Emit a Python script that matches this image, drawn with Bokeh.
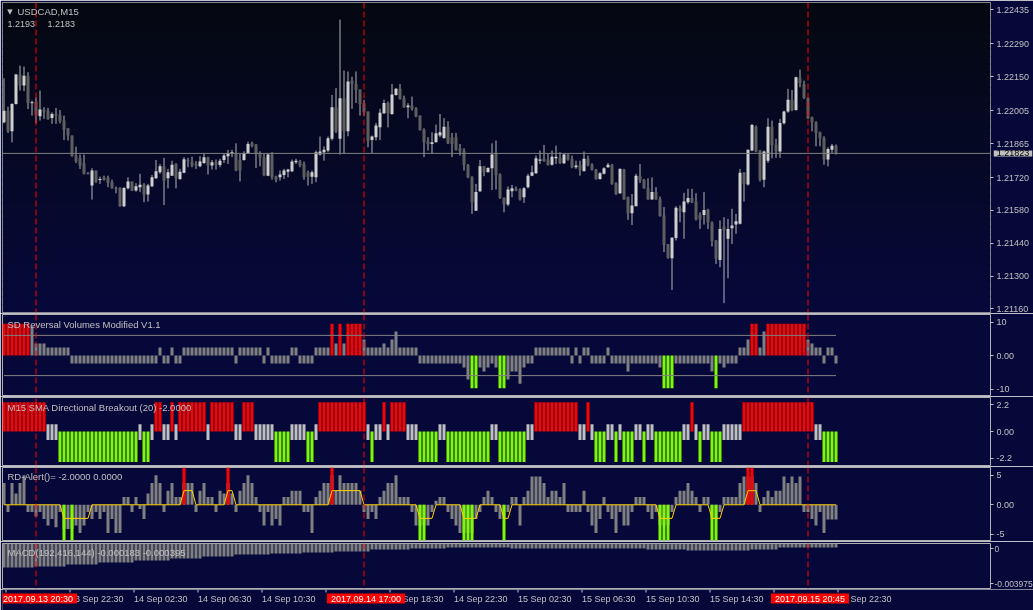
import pandas as pd
from bokeh.plotting import figure
from bokeh.layouts import column
from bokeh.models import (ColumnDataSource, Span, Label, FixedTicker, BoxAnnotation,
                          Range1d, CustomJSTickFormatter)
from bokeh.embed import file_html
from bokeh.resources import INLINE

# ============================ DATA ============================
symbol_title = "USDCAD,M15"
header_prices = ["1.2193", "1.2183"]
first_bar_time = "2017-09-13 18:30"
bar_minutes = 15

opens = [
    1.21956, 1.22005, 1.21917, 1.22034, 1.22159, 1.22112, 1.22154, 1.22038, 1.22044, 1.21981,
    1.22010, 1.22005, 1.21974, 1.21991, 1.21988, 1.21963, 1.21930, 1.21899, 1.21814, 1.21802,
    1.21781, 1.21740, 1.21686, 1.21750, 1.21710, 1.21721, 1.21719, 1.21700, 1.21676, 1.21676,
    1.21598, 1.21674, 1.21703, 1.21665, 1.21679, 1.21690, 1.21648, 1.21683, 1.21717, 1.21743,
    1.21768, 1.21717, 1.21728, 1.21778, 1.21714, 1.21740, 1.21795, 1.21787, 1.21778, 1.21768,
    1.21782, 1.21807, 1.21771, 1.21785, 1.21774, 1.21795, 1.21811, 1.21821, 1.21825, 1.21795,
    1.21795, 1.21824, 1.21868, 1.21861, 1.21824, 1.21807, 1.21728, 1.21818, 1.21724, 1.21721,
    1.21731, 1.21745, 1.21747, 1.21785, 1.21788, 1.21778, 1.21743, 1.21724, 1.21721, 1.21818,
    1.21828, 1.21835, 1.21885, 1.22020, 1.21885, 1.22058, 1.21917, 1.22133, 1.22119, 1.22095,
    1.22037, 1.22001, 1.21880, 1.21892, 1.21934, 1.21994, 1.22038, 1.21991, 1.22072, 1.22098,
    1.22058, 1.22020, 1.22027, 1.22015, 1.21984, 1.21924, 1.21875, 1.21863, 1.21870, 1.21899,
    1.21889, 1.21937, 1.21892, 1.21892, 1.21845, 1.21835, 1.21774, 1.21721, 1.21579, 1.21662,
    1.21768, 1.21743, 1.21760, 1.21825, 1.21733, 1.21633, 1.21605, 1.21662, 1.21672, 1.21669,
    1.21636, 1.21679, 1.21728, 1.21738, 1.21792, 1.21800, 1.21797, 1.21775, 1.21802, 1.21804,
    1.21781, 1.21818, 1.21800, 1.21764, 1.21774, 1.21747, 1.21800, 1.21775, 1.21754, 1.21714,
    1.21736, 1.21764, 1.21774, 1.21696, 1.21653, 1.21753, 1.21636, 1.21568, 1.21598, 1.21728,
    1.21711, 1.21676, 1.21626, 1.21658, 1.21629, 1.21558, 1.21436, 1.21376, 1.21462, 1.21589,
    1.21572, 1.21615, 1.21633, 1.21618, 1.21562, 1.21561, 1.21584, 1.21530, 1.21452, 1.21369,
    1.21511, 1.21459, 1.21504, 1.21520, 1.21523, 1.21740, 1.21690, 1.21835, 1.21937, 1.21835,
    1.21711, 1.21792, 1.21937, 1.21861, 1.21831, 1.21951, 1.22001, 1.22052, 1.22008, 1.22145,
    1.22119, 1.22059, 1.21977, 1.21956, 1.21913, 1.21889, 1.21797, 1.21839, 1.21856,
]
highs = [
    1.22143, 1.22022, 1.22037, 1.22162, 1.22197, 1.22193, 1.22169, 1.22048, 1.22062, 1.22091,
    1.22020, 1.22017, 1.21998, 1.22017, 1.22008, 1.21984, 1.21930, 1.21899, 1.21852, 1.21818,
    1.21818, 1.21743, 1.21760, 1.21750, 1.21724, 1.21728, 1.21728, 1.21711, 1.21682, 1.21679,
    1.21679, 1.21721, 1.21703, 1.21696, 1.21736, 1.21696, 1.21693, 1.21731, 1.21795, 1.21778,
    1.21804, 1.21757, 1.21792, 1.21781, 1.21757, 1.21807, 1.21804, 1.21809, 1.21790, 1.21811,
    1.21821, 1.21809, 1.21795, 1.21797, 1.21800, 1.21821, 1.21838, 1.21838, 1.21866, 1.21821,
    1.21832, 1.21873, 1.21873, 1.21863, 1.21832, 1.21821, 1.21825, 1.21828, 1.21728, 1.21750,
    1.21757, 1.21757, 1.21797, 1.21800, 1.21795, 1.21788, 1.21750, 1.21750, 1.21835, 1.21895,
    1.21853, 1.21895, 1.22072, 1.22101, 1.22393, 1.22176, 1.22172, 1.22150, 1.22172, 1.22095,
    1.22051, 1.22001, 1.21899, 1.21953, 1.22013, 1.22052, 1.22044, 1.22119, 1.22101, 1.22119,
    1.22069, 1.22037, 1.22065, 1.22020, 1.21984, 1.21930, 1.21892, 1.21913, 1.21946, 1.21991,
    1.21973, 1.21960, 1.21910, 1.21910, 1.21863, 1.21845, 1.21778, 1.21726, 1.21693, 1.21795,
    1.21768, 1.21764, 1.21866, 1.21878, 1.21738, 1.21636, 1.21682, 1.21689, 1.21682, 1.21674,
    1.21679, 1.21736, 1.21771, 1.21814, 1.21835, 1.21859, 1.21821, 1.21835, 1.21856, 1.21828,
    1.21821, 1.21821, 1.21814, 1.21792, 1.21792, 1.21831, 1.21814, 1.21781, 1.21757, 1.21743,
    1.21764, 1.21782, 1.21778, 1.21700, 1.21760, 1.21757, 1.21639, 1.21650, 1.21736, 1.21778,
    1.21714, 1.21717, 1.21721, 1.21679, 1.21639, 1.21594, 1.21437, 1.21466, 1.21598, 1.21601,
    1.21655, 1.21672, 1.21672, 1.21653, 1.21572, 1.21658, 1.21587, 1.21533, 1.21454, 1.21537,
    1.21551, 1.21544, 1.21587, 1.21565, 1.21757, 1.21743, 1.21839, 1.21949, 1.21942, 1.21838,
    1.21835, 1.21973, 1.21963, 1.21885, 1.21970, 1.22005, 1.22098, 1.22093, 1.22150, 1.22180,
    1.22133, 1.22062, 1.21980, 1.21960, 1.21916, 1.21896, 1.21849, 1.21863, 1.21861,
]
lows = [
    1.21951, 1.21910, 1.21870, 1.22031, 1.22091, 1.22088, 1.22012, 1.21984, 1.21951, 1.21963,
    1.21970, 1.21966, 1.21949, 1.21949, 1.21951, 1.21880, 1.21878, 1.21809, 1.21782, 1.21757,
    1.21733, 1.21733, 1.21626, 1.21697, 1.21693, 1.21707, 1.21679, 1.21672, 1.21653, 1.21596,
    1.21594, 1.21669, 1.21662, 1.21660, 1.21658, 1.21615, 1.21618, 1.21679, 1.21714, 1.21736,
    1.21603, 1.21674, 1.21728, 1.21674, 1.21710, 1.21738, 1.21764, 1.21764, 1.21757, 1.21764,
    1.21778, 1.21733, 1.21754, 1.21754, 1.21764, 1.21782, 1.21778, 1.21807, 1.21747, 1.21703,
    1.21792, 1.21821, 1.21849, 1.21761, 1.21768, 1.21726, 1.21726, 1.21711, 1.21700, 1.21707,
    1.21714, 1.21721, 1.21743, 1.21778, 1.21764, 1.21711, 1.21686, 1.21693, 1.21700, 1.21814,
    1.21792, 1.21828, 1.21878, 1.21910, 1.21818, 1.21824, 1.21896, 1.22013, 1.22038, 1.21984,
    1.21984, 1.21849, 1.21825, 1.21878, 1.21880, 1.21991, 1.21934, 1.21987, 1.22069, 1.22052,
    1.22017, 1.21973, 1.22005, 1.21977, 1.21920, 1.21807, 1.21835, 1.21821, 1.21870, 1.21892,
    1.21885, 1.21863, 1.21807, 1.21835, 1.21814, 1.21750, 1.21717, 1.21565, 1.21579, 1.21658,
    1.21726, 1.21743, 1.21667, 1.21669, 1.21629, 1.21572, 1.21598, 1.21636, 1.21662, 1.21622,
    1.21612, 1.21674, 1.21726, 1.21736, 1.21778, 1.21787, 1.21771, 1.21771, 1.21778, 1.21778,
    1.21778, 1.21792, 1.21760, 1.21757, 1.21728, 1.21747, 1.21768, 1.21750, 1.21711, 1.21711,
    1.21733, 1.21761, 1.21689, 1.21646, 1.21650, 1.21626, 1.21540, 1.21518, 1.21598, 1.21697,
    1.21672, 1.21626, 1.21626, 1.21625, 1.21554, 1.21402, 1.21374, 1.21241, 1.21452, 1.21530,
    1.21459, 1.21608, 1.21611, 1.21537, 1.21501, 1.21520, 1.21501, 1.21426, 1.21352, 1.21338,
    1.21185, 1.21291, 1.21437, 1.21480, 1.21520, 1.21618, 1.21686, 1.21832, 1.21828, 1.21703,
    1.21679, 1.21782, 1.21802, 1.21804, 1.21804, 1.21946, 1.21996, 1.22003, 1.22005, 1.22105,
    1.22055, 1.21970, 1.21917, 1.21853, 1.21853, 1.21775, 1.21768, 1.21825, 1.21818,
]
closes = [
    1.22005, 1.21917, 1.22034, 1.22159, 1.22112, 1.22154, 1.22038, 1.22041, 1.21984, 1.22010,
    1.22001, 1.21970, 1.21991, 1.21984, 1.21960, 1.21924, 1.21899, 1.21811, 1.21790, 1.21771,
    1.21736, 1.21736, 1.21750, 1.21703, 1.21714, 1.21711, 1.21697, 1.21676, 1.21674, 1.21598,
    1.21676, 1.21703, 1.21665, 1.21683, 1.21689, 1.21648, 1.21686, 1.21721, 1.21747, 1.21768,
    1.21707, 1.21743, 1.21775, 1.21717, 1.21745, 1.21798, 1.21790, 1.21771, 1.21771, 1.21788,
    1.21807, 1.21771, 1.21785, 1.21775, 1.21792, 1.21814, 1.21824, 1.21828, 1.21750, 1.21750,
    1.21824, 1.21863, 1.21853, 1.21821, 1.21804, 1.21731, 1.21818, 1.21721, 1.21711, 1.21733,
    1.21750, 1.21754, 1.21788, 1.21792, 1.21771, 1.21721, 1.21724, 1.21743, 1.21828, 1.21831,
    1.21839, 1.21888, 1.22020, 1.21917, 1.22058, 1.21917, 1.22129, 1.22119, 1.22093, 1.22034,
    1.21998, 1.21875, 1.21895, 1.21942, 1.21996, 1.22038, 1.21994, 1.22074, 1.22098, 1.22055,
    1.22020, 1.22027, 1.22013, 1.21980, 1.21923, 1.21870, 1.21863, 1.21870, 1.21909, 1.21913,
    1.21937, 1.21866, 1.21863, 1.21839, 1.21832, 1.21774, 1.21721, 1.21615, 1.21658, 1.21768,
    1.21743, 1.21761, 1.21818, 1.21731, 1.21633, 1.21605, 1.21669, 1.21674, 1.21665, 1.21626,
    1.21674, 1.21728, 1.21743, 1.21802, 1.21797, 1.21790, 1.21774, 1.21809, 1.21809, 1.21782,
    1.21818, 1.21797, 1.21764, 1.21771, 1.21753, 1.21800, 1.21771, 1.21753, 1.21714, 1.21738,
    1.21760, 1.21775, 1.21693, 1.21650, 1.21757, 1.21626, 1.21568, 1.21601, 1.21728, 1.21707,
    1.21674, 1.21626, 1.21658, 1.21626, 1.21555, 1.21433, 1.21378, 1.21463, 1.21591, 1.21577,
    1.21618, 1.21633, 1.21615, 1.21541, 1.21541, 1.21582, 1.21530, 1.21449, 1.21374, 1.21501,
    1.21494, 1.21501, 1.21516, 1.21534, 1.21740, 1.21693, 1.21838, 1.21944, 1.21832, 1.21711,
    1.21831, 1.21937, 1.21859, 1.21832, 1.21953, 1.22001, 1.22052, 1.22008, 1.22147, 1.22123,
    1.22059, 1.21973, 1.21956, 1.21910, 1.21888, 1.21797, 1.21842, 1.21856, 1.21823,
]
last_price = 1.21823
price_ticks = [1.22435, 1.22290, 1.22150, 1.22005, 1.21865, 1.21720, 1.21580, 1.21440, 1.21300, 1.21160]

# --- SD Reversal Volumes ---
sd_title = "SD Reversal Volumes Modified V1.1"
sd_values = [
    9.5, 9.5, 9.5, 9.5, 9.5, 9.5, 9.5, 8.7, 3.6, 3.6,
    3.6, 2.4, 2.4, 2.4, 2.4, 2.4, 2.4, -2.4, -2.4, -2.4,
    -2.4, -2.4, -2.4, -2.4, -2.4, -2.4, -2.4, -2.4, -2.4, -2.4,
    -2.4, -2.4, -2.4, -2.4, -2.4, -2.4, -2.4, -2.4, -2.4, 2.4,
    -2.4, -2.4, 2.4, -2.4, -2.4, 2.4, 2.4, 2.4, 2.4, 2.4,
    2.4, 2.4, 2.4, 2.4, 2.4, 2.4, 2.4, 2.4, -2.4, 2.4,
    2.4, 2.4, 2.4, 2.4, 2.4, -2.4, 2.4, -2.4, -2.4, -2.4,
    -2.4, -2.4, 2.4, 2.4, -2.4, -2.4, -2.4, -2.4, 2.4, 2.4,
    2.4, 2.4, 9.5, 3.6, 9.5, 3.6, 9.5, 9.5, 9.5, 9.5,
    4.8, 2.4, 2.4, 2.4, 2.4, 3.6, 2.4, 4.8, 7.2, 2.4,
    2.4, 2.4, 2.4, 2.4, -2.4, -2.4, -2.4, -2.4, -2.4, -2.4,
    -2.4, -2.4, -2.4, -2.4, -2.4, -3.6, -7.2, -9.8, -9.8, -3.6,
    -4.8, -3.6, -2.4, -3.6, -9.8, -9.8, -7.2, -4.8, -4.8, -8.4,
    -3.6, -2.4, -2.4, 2.4, 2.4, 2.4, 2.4, 2.4, 2.4, 2.4,
    2.4, 2.4, -2.4, 2.4, -2.4, 2.4, 2.4, -2.4, -2.4, -2.4,
    -2.4, 2.4, -2.4, -2.4, -2.4, -2.4, -4.8, -2.4, -2.4, -2.4,
    -2.4, -2.4, -2.4, -2.4, -3.6, -9.8, -9.8, -9.8, -2.4, -2.4,
    -2.4, -2.4, -2.4, -2.4, -2.4, -2.4, -2.4, -4.8, -9.8, -2.4,
    -3.6, -2.4, -2.4, -2.4, 2.4, 2.4, 4.8, 9.5, 9.5, 2.4,
    7.2, 9.5, 9.5, 9.5, 9.5, 9.5, 9.5, 9.5, 9.5, 9.5,
    9.5, 4.8, 3.6, 2.4, 2.4, -2.4, 2.4, 2.4, -2.4,
]
sd_state = (
    "RRRRRRRNNN" "NNNNNNNNNN" "NNNNNNNNNN" "NNNNNNNNNN" "NNNNNNNNNN"
    "NNNNNNNNNN" "NNNNNNNNNN" "NNNNNNNNNN" "NNRNRNRRRR" "NNNNNNNNNN"
    "NNNNNNNNNN" "NNNNNNNGGN" "NNNNGGNNNN" "NNNNNNNNNN" "NNNNNNNNNN"
    "NNNNNNNNNN" "NNNNNGGGNN" "NNNNNNNNGN" "NNNNNNNRRN" "NRRRRRRRRR"
    "RNNNNNNNN"
)
sd_level = 6.0
sd_ticks = [10, 0, -10]
sd_tick_labels = ["10", "0.00", "-10"]

# --- M15 SMA Directional Breakout ---
m15_title = "M15 SMA Directional Breakout (20) -2.0000"
m15_state = (
    "RRRRRRRRRR" "RNNNGGGGGG" "GGGGGGGGGG" "GGGGNGGNRR" "NNRNRRRRRR"
    "RNRRRRRRNN" "RRRNNNNNGG" "GGNNNNGGNR" "RRRRRRRRRR" "RNGNNRNRRR"
    "RNNNGGGGGN" "NGGGGGGGGG" "GGNNGGGGGG" "GNNRRRRRRR" "RRRRNNRNGG"
    "GNNGNGGGNN" "GNNGGGGGGG" "NNRNGNNGGG" "NNNNNRRRRR" "RRRRRRRRRR"
    "RRRNNGGGG"
)
m15_up = 2.4
m15_down = -2.5
m15_flat = (-0.7, 0.6)
m15_ticks = [2.2, 0.0, -2.2]
m15_tick_labels = ["2.2", "0.00", "-2.2"]

# --- RD-Alert ---
rd_title = "RD-Alert()=  -2.0000 0.0000"
rd_hist = [
    3.7, -1.2, 3.7, 1.9, 3.7, 5.0, -1.2, -1.2, -2.0, -1.2,
    -2.4, -3.5, -2.4, -3.8, -1.2, -4.1, -4.1, -4.1, -3.5, -4.8,
    -3.5, -1.2, -2.4, -1.2, -2.4, -1.2, -4.8, -2.4, -4.8, -4.8,
    1.3, 1.3, -1.2, 1.3, -0.7, -2.4, 1.9, 3.7, 5.0, 3.7,
    -1.2, 2.4, 3.7, 1.3, 1.3, 3.7, 3.7, 3.7, -1.2, 2.4,
    3.7, 1.3, 1.3, -1.2, 2.4, 1.9, 3.7, 1.9, -1.2, 2.4,
    3.7, 5.0, 3.7, 1.3, -1.2, -3.5, -1.2, -3.5, -2.4, -3.5,
    1.3, 1.3, 2.4, 2.4, 2.4, -1.2, -1.2, -4.8, 1.3, 2.4,
    3.7, 3.7, 5.0, 2.4, 5.0, 3.7, 3.7, 3.7, 3.7, 2.4,
    -1.2, -2.4, -1.2, -2.4, 1.3, 2.4, 3.7, 3.7, 5.0, 1.3,
    1.3, 1.3, -1.2, -3.5, -3.5, -3.5, -3.5, -1.2, 0.7, 1.3,
    1.3, -1.2, -2.4, -3.5, -4.8, -4.8, -4.8, -4.8, -2.4, -1.2,
    1.3, 2.4, 1.3, -1.2, -2.4, -2.4, -1.2, 1.3, 1.3, -3.5,
    1.3, 2.4, 4.8, 4.8, 4.8, 3.7, 1.3, 2.4, 2.4, 1.3,
    3.7, -1.2, -1.2, -1.2, -1.2, 2.4, -1.2, -3.5, -4.8, -2.4,
    1.3, -1.2, -2.4, -4.8, -1.2, -3.5, -3.5, -1.2, 1.3, 1.3,
    1.3, -1.2, -2.4, -1.2, -3.5, -3.5, -3.5, -1.2, 1.3, 2.4,
    2.4, 3.7, 2.4, 1.3, -1.2, 1.3, 1.3, -2.4, -2.4, -1.2,
    1.3, 1.3, 1.3, 1.3, 3.7, 4.8, 4.8, 4.8, 3.7, -1.2,
    1.3, 2.4, 1.3, 2.4, 2.4, 4.8, 3.7, 4.8, 3.7, 4.8,
    -1.2, -1.2, -2.4, -3.5, -1.2, -4.8, -2.5, -2.5, -2.5,
]
rd_alert = (
    ".........." ".....G.G.." ".........." ".........." ".....R...."
    "......R..." ".........." ".........." "..R......." ".........."
    "....GG...." ".....GGG.." ".....G...." ".........." ".........."
    ".........." "....GGG..." ".......GG." "......RR.." ".........."
    "........."
)
rd_line = [
    0, 0, 0, 0, 0, 0, 0, 0, 0, 0,
    0, 0, 0, 0, 0, -2.3, -2.3, -2.3, -2.3, -2.3,
    -2.3, -2.3, 0, 0, 0, 0, 0, 0, 0, 0,
    0, 0, 0, 0, 0, 0, 0, 0, 0, 0,
    0, 0, 0, 0, 0, 2.4, 2.4, 2.4, 0, 0,
    0, 0, 0, 0, 0, 0, 2.4, 2.4, 0, 0,
    0, 0, 0, 0, 0, 0, 0, 0, 0, 0,
    0, 0, 0, 0, 0, 0, 0, 0, 0, 0,
    0, 0, 2.4, 2.4, 2.4, 2.4, 2.4, 2.4, 2.4, 2.4,
    0, 0, 0, 0, 0, 0, 0, 0, 0, 0,
    0, 0, 0, 0, -2.3, -2.3, -2.3, -2.3, 0, 0,
    0, 0, 0, 0, 0, -2.3, -2.3, -2.3, -2.3, 0,
    0, 0, 0, 0, 0, -2.3, -2.3, 0, 0, 0,
    0, 0, 0, 0, 0, 0, 0, 0, 0, 0,
    0, 0, 0, 0, 0, 0, 0, 0, 0, 0,
    0, 0, 0, 0, 0, 0, 0, 0, 0, 0,
    0, 0, 0, 0, -2.3, -2.3, -2.3, -2.3, 0, 0,
    0, 0, 0, 0, 0, 0, 0, -2.3, -2.3, -2.3,
    0, 0, 0, 0, 0, 0, 2.4, 2.4, 2.4, 0,
    0, 0, 0, 0, 0, 0, 0, 0, 0, 0,
    0, 0, 0, 0, 0, 0, 0, 0, 0,
]
rd_ticks = [5, 0, -5]
rd_tick_labels = ["5", "0.00", "-5"]

# --- MACD ---
macd_title = "MACD(192,416,144) -0.000183 -0.000395"
macd_hist = [
    -0.00207, -0.00207, -0.00207, -0.00207, -0.00207, -0.00207, -0.00207, -0.00207, -0.00199, -0.00199,
    -0.00199, -0.00199, -0.00199, -0.00199, -0.00199, -0.00199, -0.00181, -0.00181, -0.00181, -0.00181,
    -0.00181, -0.00181, -0.00181, -0.00181, -0.00164, -0.00164, -0.00164, -0.00164, -0.00164, -0.00164,
    -0.00164, -0.00164, -0.00164, -0.00147, -0.00147, -0.00147, -0.00147, -0.00147, -0.00147, -0.00147,
    -0.00147, -0.00147, -0.00130, -0.00130, -0.00130, -0.00130, -0.00130, -0.00130, -0.00130, -0.00130,
    -0.00112, -0.00112, -0.00112, -0.00112, -0.00112, -0.00112, -0.00112, -0.00112, -0.00095, -0.00095,
    -0.00095, -0.00095, -0.00095, -0.00095, -0.00095, -0.00095, -0.00095, -0.00086, -0.00086, -0.00086,
    -0.00086, -0.00086, -0.00086, -0.00086, -0.00086, -0.00078, -0.00078, -0.00078, -0.00078, -0.00078,
    -0.00078, -0.00078, -0.00078, -0.00069, -0.00069, -0.00069, -0.00069, -0.00069, -0.00069, -0.00069,
    -0.00069, -0.00069, -0.00052, -0.00052, -0.00052, -0.00052, -0.00052, -0.00052, -0.00052, -0.00052,
    -0.00052, -0.00052, -0.00043, -0.00043, -0.00043, -0.00043, -0.00043, -0.00043, -0.00043, -0.00043,
    -0.00043, -0.00035, -0.00035, -0.00035, -0.00035, -0.00035, -0.00035, -0.00035, -0.00035, -0.00035,
    -0.00035, -0.00035, -0.00035, -0.00035, -0.00035, -0.00035, -0.00035, -0.00043, -0.00043, -0.00043,
    -0.00043, -0.00043, -0.00043, -0.00043, -0.00043, -0.00043, -0.00043, -0.00043, -0.00043, -0.00043,
    -0.00043, -0.00043, -0.00043, -0.00043, -0.00043, -0.00043, -0.00043, -0.00043, -0.00043, -0.00043,
    -0.00043, -0.00043, -0.00043, -0.00043, -0.00043, -0.00043, -0.00043, -0.00043, -0.00043, -0.00043,
    -0.00043, -0.00052, -0.00052, -0.00052, -0.00052, -0.00052, -0.00052, -0.00052, -0.00052, -0.00052,
    -0.00052, -0.00060, -0.00060, -0.00060, -0.00060, -0.00060, -0.00060, -0.00060, -0.00060, -0.00060,
    -0.00060, -0.00060, -0.00060, -0.00060, -0.00060, -0.00060, -0.00060, -0.00052, -0.00052, -0.00052,
    -0.00052, -0.00052, -0.00052, -0.00052, -0.00035, -0.00035, -0.00035, -0.00035, -0.00035, -0.00035,
    -0.00035, -0.00035, -0.00035, -0.00035, -0.00035, -0.00035, -0.00035, -0.00035, -0.00035,
]
macd_min = -0.003975
macd_scale_labels = ["0", "-0.003975"]

# --- time axis ---
time_tick_labels = ["13 Sep 18:30", "13 Sep 22:30", "14 Sep 02:30", "14 Sep 06:30", "14 Sep 10:30",
                    "14 Sep 14:30", "14 Sep 18:30", "14 Sep 22:30", "15 Sep 02:30", "15 Sep 06:30",
                    "15 Sep 10:30", "15 Sep 14:30", "15 Sep 18:30", "15 Sep 22:30"]
marker_labels = ["2017.09.13 20:30", "2017.09.14 17:00", "2017.09.15 20:45"]

# ============================ STYLE ============================
FONT = "Liberation Sans"
NAVY = "#06083a"
GRAD_TOP = (5, 8, 17)
GRAD_BOT = (6, 8, 58)
FRAME_COLOR = "#b0b0b0"
TEXT = "#c0c0c0"
BULL = "#cfcfcf"
BEAR = "#5e5e5e"
WICK = "#b4b4b4"
GRAY = "#808080"
LIGHT_GRAY = "#c0c0c0"
RED = "#ff0000"
GREEN = "#7cfc00"
YELLOW = "#ffd200"

FRAME_W = 988
BAR_PX = 4
X0 = -0.375
X1 = X0 + FRAME_W / BAR_PX

MAIN_LO, MAIN_HI = 1.21145, 1.22466
SD_LO, SD_HI = -11.94, 12.24
M15_LO, M15_HI = -2.79, 2.79
RD_LO, RD_HI = -6.05, 6.32
MACD_LO, MACD_HI = macd_min, 0.0

# ============================ DERIVED ============================
n = len(opens)
idx = list(range(n))
times = pd.date_range(first_bar_time, periods=n, freq=f"{bar_minutes}min")


def time_index(ts):
    return int(times.get_loc(pd.Timestamp(ts)))


tick_idx = [time_index(pd.to_datetime("2017 " + s, format="%Y %d %b %H:%M")) for s in time_tick_labels]
marker_idx = [time_index(pd.to_datetime(s, format="%Y.%m.%d %H:%M")) for s in marker_labels]

x_range = Range1d(X0, X1)


def xdata(px):
    return X0 + (px - 2) / BAR_PX


def ydata(lo, hi, ftop, fh, py):
    return hi - (py - ftop) / fh * (hi - lo)


def make_panel(frame_h, lo, hi, top, bottom):
    p = figure(frame_width=FRAME_W, frame_height=frame_h,
               x_range=x_range, y_range=Range1d(lo, hi),
               x_axis_location=None, y_axis_location="right",
               output_backend="svg", toolbar_location=None, tools="",
               min_border_left=2, min_border_right=43, min_border_top=top, min_border_bottom=bottom,
               background_fill_color=NAVY, border_fill_color=NAVY,
               outline_line_color=FRAME_COLOR, outline_line_width=1)
    p.grid.visible = False
    return p


def style_yaxis(p, ticks, labels, size="9px", standoff=3):
    ax = p.yaxis[0]
    ax.ticker = FixedTicker(ticks=list(ticks), minor_ticks=[])
    ax.formatter = CustomJSTickFormatter(args=dict(vals=list(ticks), labs=list(labels)), code="""
        let best = 0, d = Infinity;
        for (let i = 0; i < vals.length; i++) {
            const e = Math.abs(vals[i] - tick);
            if (e < d) { d = e; best = i; }
        }
        return labs[best];
    """)
    ax.axis_line_color = None
    ax.major_tick_line_color = TEXT
    ax.major_tick_out = 3
    ax.major_tick_in = 0
    ax.minor_tick_line_color = None
    ax.major_label_text_color = TEXT
    ax.major_label_text_font = FONT
    ax.major_label_text_font_size = size
    ax.major_label_standoff = standoff


def make_label(x, y, text, size="9.5px", color=TEXT, align="left", font=FONT, **kw):
    return Label(x=x, y=y, text=text, text_font=font, text_font_size=size,
                 text_color=color, text_align=align, text_baseline="middle", **kw)


def make_tag(x, y, text, color, bg, align, hpad):
    """Text on a filled box; uses Label padding when available."""
    try:
        return make_label(x, y, text, size="9px", color=color, align=align,
                          background_fill_color=bg, background_fill_alpha=1.0,
                          padding=dict(left=hpad, right=hpad, top=0, bottom=0))
    except Exception:
        return make_label(x, y, " " + text + " ", size="9px", color=color, align=align,
                          background_fill_color=bg, background_fill_alpha=1.0)


def add_text(p, *args, **kw):
    p.add_layout(make_label(*args, **kw))


def add_markers(p):
    for mi in marker_idx:
        p.add_layout(Span(location=mi, dimension="height", line_color=RED,
                          line_width=1, line_dash="6 3"))


# ============================ MAIN PANEL ============================
main = make_panel(310, MAIN_LO, MAIN_HI, 2, 1)
style_yaxis(main, price_ticks, ["%.5f" % t for t in price_ticks])

N_BANDS = 40
band_h = (MAIN_HI - MAIN_LO) / N_BANDS
for k in range(N_BANDS):
    t = k / (N_BANDS - 1)
    col = "#%02x%02x%02x" % tuple(round(a + (b - a) * t) for a, b in zip(GRAD_TOP, GRAD_BOT))
    top = None if k == 0 else MAIN_HI - k * band_h + band_h * 0.1
    bot = None if k == N_BANDS - 1 else MAIN_HI - (k + 1) * band_h
    main.add_layout(BoxAnnotation(top=top, bottom=bot, fill_color=col, fill_alpha=1.0,
                                  line_color=None, level="underlay"))

main.add_layout(Span(location=last_price, dimension="width", line_color=GRAY, line_width=1))
add_markers(main)

min_body = (MAIN_HI - MAIN_LO) / 310
btop, bbot, bcol = [], [], []
for o, c in zip(opens, closes):
    t, b = max(o, c), min(o, c)
    if t - b < min_body:
        b = t - min_body
    btop.append(t)
    bbot.append(b)
    bcol.append(BULL if c >= o else BEAR)
csrc = ColumnDataSource(dict(x=idx, h=highs, l=lows, top=btop, bot=bbot, col=bcol))
main.segment(x0="x", y0="h", x1="x", y1="l", source=csrc, line_color=WICK, line_width=1)
main.vbar(x="x", width=0.75, top="top", bottom="bot", source=csrc, fill_color="col", line_color=None)

ym = lambda py: ydata(MAIN_LO, MAIN_HI, 2, 310, py)
add_text(main, xdata(9.5), ym(11.5), "\u25BC", size="7px", align="center", font="DejaVu Sans")
add_text(main, xdata(17), ym(10.7), symbol_title)
add_text(main, xdata(7), ym(23.7), header_prices[0], size="9px")
add_text(main, xdata(47), ym(23.7), header_prices[1], size="9px")

# current-price tag on the price scale (in the right side panel, so it is not clipped)
main.add_layout(make_tag(xdata(1012.5), last_price, "%.5f" % last_price, "#000000",
                         "#c0c0c0", "center", 3), "right")

# ============================ SD PANEL ============================
sd = make_panel(81, SD_LO, SD_HI, 1, 1)
style_yaxis(sd, sd_ticks, sd_tick_labels)
add_markers(sd)
sd_col = [RED if s == "R" else GREEN if s == "G" else GRAY for s in sd_state]
sd.vbar(x=idx, width=0.75, top=sd_values, bottom=0, fill_color=sd_col, line_color=None)
sd.line(x=idx, y=[sd_level] * n, line_color=GRAY, line_width=1)
sd.line(x=idx, y=[-sd_level] * n, line_color=GRAY, line_width=1)
add_text(sd, xdata(7), ydata(SD_LO, SD_HI, 314, 81, 324), sd_title)

# ============================ M15 PANEL ============================
m15 = make_panel(68, M15_LO, M15_HI, 1, 1)
style_yaxis(m15, m15_ticks, m15_tick_labels)
add_markers(m15)
m_top, m_bot, m_col = [], [], []
for s in m15_state:
    if s == "R":
        m_top.append(m15_up); m_bot.append(0.0); m_col.append(RED)
    elif s == "G":
        m_top.append(0.0); m_bot.append(m15_down); m_col.append(GREEN)
    else:
        m_top.append(m15_flat[1]); m_bot.append(m15_flat[0]); m_col.append(LIGHT_GRAY)
m15.vbar(x=idx, width=0.75, top=m_top, bottom=m_bot, fill_color=m_col, line_color=None)
add_text(m15, xdata(7), ydata(M15_LO, M15_HI, 397, 68, 406.7), m15_title)

# ============================ RD PANEL ============================
rd = make_panel(73, RD_LO, RD_HI, 1, 1)
style_yaxis(rd, rd_ticks, rd_tick_labels)
add_markers(rd)
rd.vbar(x=idx, width=0.75, top=rd_hist, bottom=0, fill_color=GRAY, line_color=None)
up_x = [i for i, s in enumerate(rd_alert) if s == "R"]
dn_x = [i for i, s in enumerate(rd_alert) if s == "G"]
rd.vbar(x=up_x, width=0.75, top=RD_HI, bottom=0, fill_color=RED, line_color=None)
rd.vbar(x=dn_x, width=0.75, top=0, bottom=RD_LO, fill_color=GREEN, line_color=None)
rd.line(x=idx, y=rd_line, line_color=YELLOW, line_width=1)
add_text(rd, xdata(7), ydata(RD_LO, RD_HI, 467, 73, 476), rd_title)

# ============================ MACD PANEL ============================
macd = make_panel(46, MACD_LO, MACD_HI, 2, 0)
ymc = lambda py: ydata(MACD_LO, MACD_HI, 543, 46, py)
style_yaxis(macd, [ymc(548), ymc(583)], macd_scale_labels, size="8.5px", standoff=1)
add_markers(macd)
macd.vbar(x=idx, width=0.75, top=0, bottom=macd_hist, fill_color=GRAY, line_color=None)
add_text(macd, xdata(7), ymc(551.7), macd_title)

# ============================ TIME STRIP ============================
SX0 = X0 - 2 / BAR_PX
strip = figure(frame_width=1033, frame_height=21,
               x_range=Range1d(SX0, SX0 + 1033 / BAR_PX), y_range=Range1d(0, 21),
               x_axis_location=None, y_axis_location=None,
               output_backend="svg", toolbar_location=None, tools="",
               min_border_left=0, min_border_right=0, min_border_top=0, min_border_bottom=0,
               background_fill_color=NAVY, border_fill_color=NAVY, outline_line_color=None)
strip.grid.visible = False
strip.segment(x0=tick_idx, x1=tick_idx, y0=[21] * len(tick_idx), y1=[18] * len(tick_idx),
              line_color=TEXT, line_width=1)
for ti, s in zip(tick_idx, time_tick_labels):
    add_text(strip, ti, 12, s, size="9px")
for mi, s in zip(marker_idx, marker_labels):
    strip.add_layout(make_tag(mi, 12, s, "#ffffff", RED, "center", 4))

layout = column(main, sd, m15, rd, macd, strip, spacing=0,
                styles={"position": "fixed", "left": "0px", "top": "0px"})

open("out.html", "w", encoding="utf-8").write(file_html(layout, INLINE))
